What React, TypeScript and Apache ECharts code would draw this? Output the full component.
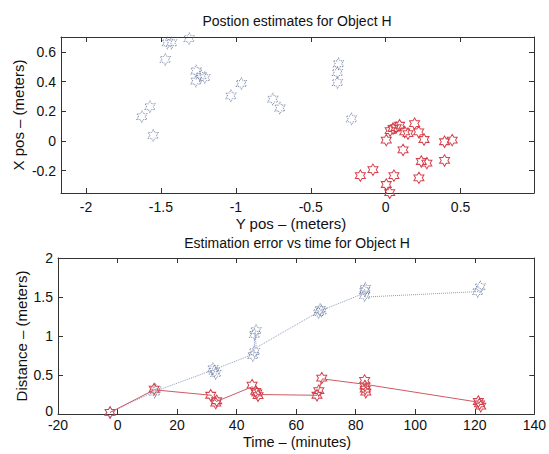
import React, { useEffect, useRef } from "react";
import * as echarts from "echarts";

// ---- Top plot: position estimates (horizontal = Y pos, vertical = X pos)
const posBlueY = [-1.457, -1.429, -1.312, -1.471, -1.266, -1.231, -1.266, -1.207, -1.627, -1.573, -1.552, -1.033, -0.963, -0.753, -0.706, -0.315, -0.322, -0.322, -0.228];
const posBlueX = [0.66, 0.66, 0.689, 0.549, 0.471, 0.438, 0.404, 0.427, 0.164, 0.231, 0.038, 0.304, 0.387, 0.282, 0.222, 0.52, 0.46, 0.393, 0.149];
const posRedY = [0.004, 0.049, 0.093, 0.127, 0.149, 0.193, 0.22, 0.256, 0.116, 0.393, 0.444, 0.238, 0.275, 0.393, 0.222, 0.055, -0.085, -0.169, 0.004, 0.027, 0.07, 0.03];
const posRedX = [0.006, 0.084, 0.106, 0.061, 0.05, 0.117, 0.061, 0.01, -0.06, -0.005, 0.006, -0.138, -0.149, -0.131, -0.248, -0.233, -0.193, -0.233, -0.293, -0.348, 0.09, 0.07];

// ---- Bottom plot: estimation error vs time
const errBlueT = [-2.5, 12.5, 12.8, 32, 33, 32.5, 45.5, 46, 46, 46.5, 67.5, 68, 68.5, 83, 83, 83.2, 121, 121.8];
const errBlueD = [0.02, 0.28, 0.31, 0.58, 0.52, 0.55, 0.75, 0.8, 1.02, 1.07, 1.3, 1.34, 1.32, 1.52, 1.58, 1.61, 1.57, 1.63];
const errBlueLineT = [-2.5, 12.5, 32.5, 45.8, 46.2, 46.6, 68, 83, 83.3, 121.5];
const errBlueLineD = [0.02, 0.29, 0.57, 0.77, 1.05, 0.85, 1.32, 1.55, 1.5, 1.57];
const errRedT = [-2.5, 12.3, 31.3, 33.0, 33.3, 45.2, 46.4, 47.2, 46.8, 67.0, 67.6, 68.6, 83.0, 83.1, 83.2, 83.4, 121.2, 121.6, 122.0];
const errRedD = [0.02, 0.32, 0.24, 0.14, 0.17, 0.37, 0.29, 0.235, 0.27, 0.24, 0.3, 0.46, 0.43, 0.36, 0.32, 0.28, 0.16, 0.13, 0.1];
const errRedLineT = [-2.5, 12.3, 31.5, 33.2, 45.3, 47, 67, 68.8, 83.2, 121.5];
const errRedLineD = [0.02, 0.31, 0.24, 0.16, 0.35, 0.25, 0.24, 0.45, 0.38, 0.15];

// ---- Tick labels
const topXTicks = [-2, -1.5, -1, -0.5, 0, 0.5];
const topYTicks = [-0.2, 0, 0.2, 0.4, 0.6];
const botXTicks = [-20, 0, 20, 40, 60, 80, 100, 120, 140];
const botYTicks = [0, 0.5, 1, 1.5, 2];

const HEX = "path://M50 0 L64.43 25 L93.3 25 L78.87 50 L93.3 75 L64.43 75 L50 100 L35.57 75 L6.7 75 L21.13 50 L6.7 25 L35.57 25 Z";
const FONT = "Liberation Sans, Arial, Helvetica, sans-serif";
const RED = "#d4414c";
const BLUE = "#5f6f98";
const AX = "#333";

const zip = (a: number[], b: number[]) => a.map((v, i) => [v, b[i]]);

function axis(grid: number, min: number, max: number, ticks: number[], position: string, labels: boolean, margin: number, extra: any = {}) {
  return {
    type: "value",
    gridIndex: grid,
    position,
    min,
    max,
    splitLine: { show: false },
    axisLine: { show: true, onZero: false, lineStyle: { color: AX, width: 1 } },
    axisTick: { show: true, inside: true, length: 5, customValues: ticks, lineStyle: { color: AX } },
    axisLabel: {
      show: labels,
      customValues: ticks,
      margin,
      color: "#111",
      fontSize: 14,
      fontFamily: FONT,
      ...extra,
    },
  };
}

const starStyle = (color: string, dotted: boolean) => ({
  color: "rgba(0,0,0,0)",
  borderColor: color,
  borderWidth: 1,
  borderType: dotted ? "dotted" : "solid",
  opacity: dotted ? 0.8 : 1,
});

export default function App() {
  const ref = useRef<HTMLDivElement>(null);
  useEffect(() => {
    if (!ref.current) return;
    const chart = echarts.init(ref.current, undefined, { renderer: "svg" });
    const t = (text: string, x: number, y: number, size: number, rotation = 0) => ({
      type: "text",
      x,
      y,
      rotation,
      style: { text, fill: "#111", font: `${size}px ${FONT}`, textAlign: "center", textVerticalAlign: "middle" },
    });
    chart.setOption({
      animation: false,
      backgroundColor: "#fff",
      grid: [
        { left: 61, right: 15, top: 37, height: 156, containLabel: false },
        { left: 58, right: 12, top: 258, height: 156, containLabel: false },
      ],
      xAxis: [
        axis(0, -2.167, 0.99, topXTicks, "bottom", true, 7),
        axis(0, -2.167, 0.99, topXTicks, "top", false, 7),
        axis(1, -20, 140, botXTicks, "bottom", true, 4),
        axis(1, -20, 140, botXTicks, "top", false, 4),
      ],
      yAxis: [
        axis(0, -0.35, 0.7, topYTicks, "left", true, 5),
        axis(0, -0.35, 0.7, topYTicks, "right", false, 5),
        axis(1, 0, 2, botYTicks, "left", true, 5, {
          formatter: (v: number) => (v === 0 ? "{lift|0}" : String(v)),
          rich: { lift: { fontSize: 14, fontFamily: FONT, color: "#111", padding: [0, 0, 7, 0] } },
        }),
        axis(1, 0, 2, botYTicks, "right", false, 5),
      ],
      series: [
        {
          type: "scatter", xAxisIndex: 0, yAxisIndex: 0, clip: false,
          symbol: HEX, symbolSize: [10, 11.5],
          itemStyle: starStyle(BLUE, true),
          data: zip(posBlueY, posBlueX),
        },
        {
          type: "scatter", xAxisIndex: 0, yAxisIndex: 0, clip: false,
          symbol: HEX, symbolSize: [10, 11.5],
          itemStyle: starStyle(RED, false),
          data: zip(posRedY, posRedX),
        },
        {
          type: "line", xAxisIndex: 2, yAxisIndex: 2, clip: false, showSymbol: false,
          lineStyle: { color: "#8e9cc0", width: 1, type: "dotted" },
          data: zip(errBlueLineT, errBlueLineD),
        },
        {
          type: "scatter", xAxisIndex: 2, yAxisIndex: 2, clip: false,
          symbol: HEX, symbolSize: [10, 11.5],
          itemStyle: starStyle(BLUE, true),
          data: zip(errBlueT, errBlueD),
        },
        {
          type: "line", xAxisIndex: 2, yAxisIndex: 2, clip: false, showSymbol: false,
          lineStyle: { color: "#cf5a62", width: 1 },
          data: zip(errRedLineT, errRedLineD),
        },
        {
          type: "scatter", xAxisIndex: 2, yAxisIndex: 2, clip: false,
          symbol: HEX, symbolSize: [10, 11.5],
          itemStyle: starStyle(RED, false),
          data: zip(errRedT, errRedD),
        },
      ],
      graphic: [
        t("Postion estimates for Object H", 297, 21, 14),
        t("Y pos \u2013 (meters)", 291, 223, 15),
        t("X pos \u2013 (meters)", 18, 115, 15, Math.PI / 2),
        t("Estimation error vs time for Object H", 297, 243, 14),
        t("Time \u2013 (minutes)", 297, 442, 14.5),
        t("Distance \u2013 (meters)", 21, 336, 15, Math.PI / 2),
      ],
    });
    return () => chart.dispose();
  }, []);
  return <div ref={ref} style={{ position: "fixed", left: 0, top: 0, width: 549, height: 454 }} />;
}
